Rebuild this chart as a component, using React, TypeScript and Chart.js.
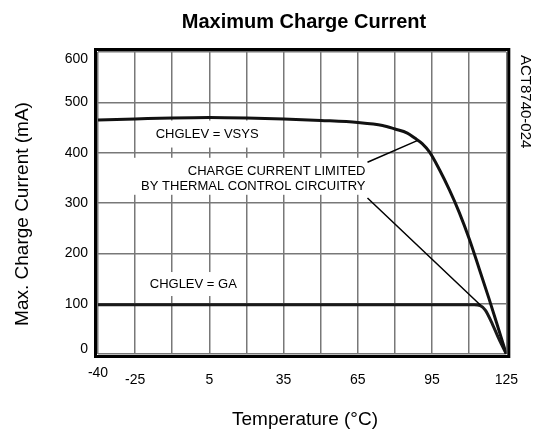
import React, { useEffect, useRef } from 'react';
import { Chart, registerables } from 'chart.js';

Chart.register(...registerables);

// ---- data ----
const vsysTemps = [-40, -25, -10, 5, 20, 35, 50, 65, 75, 80, 85, 88, 91, 94, 98, 102, 106, 110, 114, 118, 121, 125];
const vsysCurrent = [465, 467, 469, 470, 469, 467, 464, 460, 454, 447, 439, 429, 418, 401, 366, 326, 281, 229, 170, 110, 63, 0];
const gaTemps = [-40, 5, 50, 95, 112, 114.5, 116.5, 119.5, 122, 125];
const gaCurrent = [98, 98, 98, 98, 98, 96, 87, 58, 30, 0];
const xLabelled = [-40, -25, 5, 35, 65, 95, 125];
const yLabelled = [0, 100, 200, 300, 400, 500, 600];

const FONT = '"Liberation Sans", Arial, Helvetica, sans-serif';
const GRID = '#787878';

const overlayPlugin = {
  id: 'overlay',
  beforeDatasetsDraw(chart: any) {
    const { ctx, scales } = chart;
    const x = scales.x, y = scales.y;
    ctx.save();
    ctx.fillStyle = '#ffffff';
    ctx.font = `13px ${FONT}`;
    {
      const cx = x.getPixelForValue(4.1), cy = y.getPixelForValue(437);
      const w = ctx.measureText('CHGLEV = VSYS').width;
      ctx.fillRect(cx - w / 2 - 10, cy - 13.5, w + 20, 27);
    }
    {
      const rx = x.getPixelForValue(68.1), cy = y.getPixelForValue(362);
      const w = ctx.measureText('BY THERMAL CONTROL CIRCUITRY').width;
      ctx.fillRect(rx - w - 8, cy - 14, w + 12, 37);
    }
    {
      const cx = x.getPixelForValue(-1.5), cy = y.getPixelForValue(139);
      const w = ctx.measureText('CHGLEV = GA').width;
      ctx.fillRect(cx - w / 2 - 5, cy - 12, w + 10, 24);
    }
    ctx.restore();
  },
  afterDatasetsDraw(chart: any) {
    const { ctx, scales } = chart;
    const x = scales.x, y = scales.y;
    ctx.save();
    ctx.strokeStyle = '#000';
    ctx.lineWidth = 1.5;
    ctx.beginPath();
    ctx.moveTo(x.getPixelForValue(68.9), y.getPixelForValue(381));
    ctx.lineTo(x.getPixelForValue(89), y.getPixelForValue(424));
    ctx.moveTo(x.getPixelForValue(68.9), y.getPixelForValue(310));
    ctx.lineTo(x.getPixelForValue(114.6), y.getPixelForValue(97));
    ctx.stroke();
    ctx.fillStyle = '#000';
    ctx.font = `13px ${FONT}`;
    ctx.textBaseline = 'middle';
    ctx.textAlign = 'center';
    ctx.fillText('CHGLEV = VSYS', x.getPixelForValue(4.1), y.getPixelForValue(437));
    ctx.fillText('CHGLEV = GA', x.getPixelForValue(-1.5), y.getPixelForValue(139));
    ctx.textAlign = 'right';
    const rx = x.getPixelForValue(68.1);
    const cy = y.getPixelForValue(362);
    ctx.fillText('CHARGE CURRENT LIMITED', rx, cy);
    ctx.fillText('BY THERMAL CONTROL CIRCUITRY', rx, cy + 15);
    ctx.restore();
  },
  afterDraw(chart: any) {
    const { ctx, chartArea, scales } = chart;
    const x = scales.x, y = scales.y;
    const { left, top, right, bottom } = chartArea;
    ctx.save();
    ctx.strokeStyle = '#000';
    ctx.lineWidth = 3;
    ctx.strokeRect(left - 2.5, top - 2.5, right - left + 5, bottom - top + 5);
    ctx.fillStyle = '#000';
    ctx.textBaseline = 'middle';
    ctx.textAlign = 'center';
    ctx.font = `bold 20px ${FONT}`;
    ctx.fillText('Maximum Charge Current', 304, 22);
    ctx.font = `19px ${FONT}`;
    ctx.fillText('Temperature (°C)', 305, 420);
    ctx.save();
    ctx.translate(23, 214);
    ctx.rotate(-Math.PI / 2);
    ctx.fillText('Max. Charge Current (mA)', 0, 0);
    ctx.restore();
    ctx.save();
    ctx.translate(525, 55);
    ctx.rotate(Math.PI / 2);
    ctx.textAlign = 'left';
    ctx.font = `15px ${FONT}`;
    ctx.fillText('ACT8740-024', 0, 0);
    ctx.restore();
    ctx.font = `14px ${FONT}`;
    ctx.textAlign = 'center';
    ctx.fillText(String(xLabelled[0]), x.getPixelForValue(xLabelled[0]), bottom + 19);
    ctx.textAlign = 'right';
    ctx.fillText(String(yLabelled[yLabelled.length - 1]), left - 10, y.getPixelForValue(yLabelled[yLabelled.length - 1]) + 7);
    ctx.fillText(String(yLabelled[0]), left - 10, y.getPixelForValue(yLabelled[0]) - 5);
    ctx.restore();
  },
};

export default function App() {
  const ref = useRef<HTMLCanvasElement | null>(null);
  useEffect(() => {
    if (!ref.current) return;
    const chart = new Chart(ref.current, {
      type: 'line',
      data: {
        datasets: [
          {
            label: 'CHGLEV = VSYS',
            data: vsysTemps.map((t, i) => ({ x: t, y: vsysCurrent[i] })),
            borderColor: '#111',
            borderWidth: 3,
            pointRadius: 0,
            cubicInterpolationMode: 'monotone',
            fill: false,
          },
          {
            label: 'CHGLEV = GA',
            data: gaTemps.map((t, i) => ({ x: t, y: gaCurrent[i] })),
            borderColor: '#1a1a1a',
            borderWidth: 3,
            pointRadius: 0,
            cubicInterpolationMode: 'monotone',
            fill: false,
          },
        ],
      },
      options: {
        responsive: false,
        animation: false,
        layout: { padding: { left: 0, right: 26, top: 52, bottom: 0 } },
        plugins: {
          legend: { display: false },
          tooltip: { enabled: false },
          title: { display: false },
        },
        scales: {
          x: {
            type: 'linear',
            min: -40,
            max: 125,
            ticks: {
              stepSize: 15,
              autoSkip: false,
              maxRotation: 0,
              padding: 18,
              color: '#000',
              font: { family: FONT, size: 14 },
              callback: (v: any) => (xLabelled.includes(Number(v)) && Number(v) !== xLabelled[0] ? String(v) : ''),
            },
            grid: { color: GRID, lineWidth: 1.5, drawTicks: false },
            border: { display: false },
            afterFit: (s: any) => { s.height = 79; },
          },
          y: {
            min: 0,
            max: 600,
            ticks: {
              stepSize: 100,
              padding: 10,
              color: '#000',
              font: { family: FONT, size: 14 },
              callback: (v: any) => (Number(v) === 0 || Number(v) === 600 ? '' : String(v)),
            },
            grid: { color: GRID, lineWidth: 1.5, drawTicks: false },
            border: { display: false },
            afterFit: (s: any) => { s.width = 98; },
          },
        },
      },
      plugins: [overlayPlugin],
    } as any);
    return () => chart.destroy();
  }, []);
  return (
    <div style={{ position: 'fixed', left: 0, top: 0, width: 536, height: 433, background: '#fff' }}>
      <canvas ref={ref} width={536} height={433} />
    </div>
  );
}
